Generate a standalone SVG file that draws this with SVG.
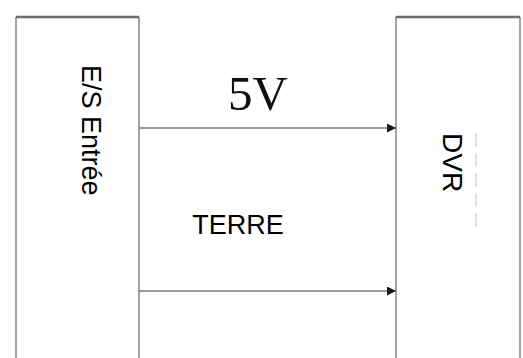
<svg xmlns="http://www.w3.org/2000/svg" width="523" height="358" viewBox="0 0 523 358">
<style>
.side{stroke:#939393;stroke-width:1.7;fill:none}
.top{stroke:#6a6a6a;stroke-width:2.6;fill:none}
.wire{stroke:#777;stroke-width:1.7;fill:none}
.lbl{font-family:"Liberation Sans",Arial,sans-serif;fill:#000}
</style>
<defs>
<marker id="ah" viewBox="0 0 10 10" refX="10" refY="5" markerWidth="13" markerHeight="9" markerUnits="userSpaceOnUse" orient="auto">
<path d="M0,0 L10,5 L0,10 z" fill="#1a1a1a"/>
</marker>
</defs>
<rect width="523" height="358" fill="#fff"/>
<g id="es-entree">
<path class="side" d="M16,17 V358 M139,17 V358"/>
<path class="top" d="M16,17 H139"/>
<text class="lbl" font-size="27" transform="translate(82,65) rotate(90)">E/S Entrée</text>
</g>
<g id="dvr">
<path class="side" d="M396,17 V358 M520,17 V358"/>
<path class="top" d="M396,17 H520"/>
<text class="lbl" font-size="28" transform="translate(443,133) rotate(90)">DVR</text>
<path d="M476,133 V230" stroke="#c8c8c8" stroke-width="1" stroke-dasharray="14,6"/>
</g>
<g id="connectors">
<path class="wire" d="M139,128 H396" marker-end="url(#ah)"/>
<path class="wire" d="M139,291 H396" marker-end="url(#ah)"/>
</g>
<text x="258" y="110" font-family="'Liberation Serif','Times New Roman',serif" font-size="49" text-anchor="middle" fill="#111">5V</text>
<text class="lbl" x="238" y="234" font-size="27" text-anchor="middle">TERRE</text>
</svg>
